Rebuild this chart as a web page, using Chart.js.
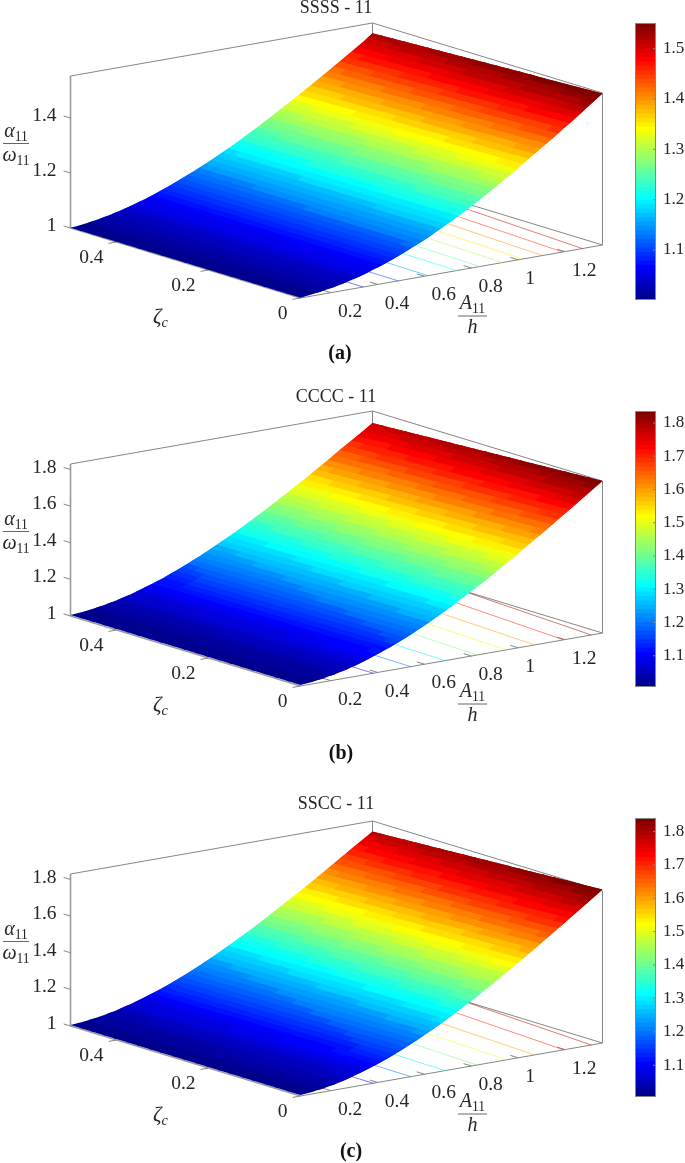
<!DOCTYPE html>
<html>
<head>
<meta charset="utf-8">
<title>Surface plots</title>
<script src="https://cdn.jsdelivr.net/npm/chart.js@4"></script>
<style>
  html, body { margin: 0; padding: 0; background: #fff; }
  body { position: relative; width: 685px; height: 1163px; overflow: hidden; }
  canvas { position: absolute; }
  .caption {
    position: absolute; transform: translate(-50%, -50%);
    font: bold 20px "Liberation Serif", serif; color: #111;
  }
</style>
</head>
<body>
<canvas id="surface-a" width="672" height="366" style="left:0;top:-2px"></canvas>
<canvas id="bar-a" width="51" height="277" style="left:635px;top:23px"></canvas>
<div class="caption" style="left:340px;top:352px">(a)</div>

<canvas id="surface-b" width="672" height="366" style="left:0;top:387px"></canvas>
<canvas id="bar-b" width="51" height="276" style="left:635px;top:411px"></canvas>
<div class="caption" style="left:341px;top:752px">(b)</div>

<canvas id="surface-c" width="672" height="366" style="left:0;top:794px"></canvas>
<canvas id="bar-c" width="51" height="279" style="left:635px;top:818px"></canvas>
<div class="caption" style="left:351px;top:1150px">(c)</div>

<script>
// values
const aValues = [0.07, 0.12, 0.17, 0.22, 0.27, 0.32, 0.37, 0.42, 0.47, 0.52, 0.57, 0.62, 0.67, 0.72,
  0.77, 0.82, 0.87, 0.92, 0.97, 1.02, 1.07, 1.12, 1.17, 1.22, 1.27, 1.32, 1.36];
const zetaValues = [0, 0.25, 0.5];

const ssssZeta0 = [1.001, 1.006, 1.012, 1.019, 1.029, 1.040, 1.053, 1.068, 1.084, 1.102, 1.121, 1.141, 1.163, 1.186,
  1.210, 1.235, 1.262, 1.289, 1.317, 1.346, 1.375, 1.404, 1.434, 1.464, 1.495, 1.526, 1.551];
const ssssZeta25 = [1.001, 1.005, 1.011, 1.019, 1.029, 1.040, 1.053, 1.067, 1.083, 1.101, 1.120, 1.139, 1.160, 1.182,
  1.205, 1.230, 1.255, 1.281, 1.308, 1.336, 1.364, 1.392, 1.420, 1.449, 1.478, 1.508, 1.534];
const ssssZeta50 = [1.001, 1.005, 1.011, 1.019, 1.029, 1.040, 1.053, 1.067, 1.083, 1.100, 1.118, 1.137, 1.157, 1.178,
  1.200, 1.224, 1.248, 1.273, 1.299, 1.325, 1.352, 1.379, 1.406, 1.434, 1.462, 1.490, 1.516];

const ccccZeta0 = [1.006, 1.011, 1.020, 1.032, 1.047, 1.066, 1.087, 1.110, 1.135, 1.163, 1.193, 1.225, 1.259, 1.294,
  1.331, 1.369, 1.408, 1.449, 1.490, 1.532, 1.575, 1.618, 1.662, 1.706, 1.750, 1.795, 1.830];
const ccccZeta25 = [1.006, 1.011, 1.019, 1.031, 1.045, 1.063, 1.082, 1.104, 1.128, 1.155, 1.183, 1.214, 1.246, 1.280,
  1.315, 1.351, 1.389, 1.428, 1.468, 1.508, 1.549, 1.592, 1.634, 1.677, 1.720, 1.763, 1.797];
const ccccZeta50 = [1.006, 1.010, 1.018, 1.029, 1.042, 1.059, 1.077, 1.098, 1.121, 1.146, 1.173, 1.202, 1.233, 1.265,
  1.298, 1.333, 1.369, 1.406, 1.445, 1.484, 1.523, 1.565, 1.605, 1.648, 1.689, 1.730, 1.764];

const ssccZeta0 = [1.005, 1.011, 1.020, 1.032, 1.048, 1.067, 1.088, 1.111, 1.137, 1.165, 1.195, 1.227, 1.261, 1.297,
  1.334, 1.373, 1.412, 1.453, 1.495, 1.537, 1.580, 1.624, 1.668, 1.712, 1.757, 1.802, 1.838];
const ssccZeta25 = [1.005, 1.011, 1.019, 1.031, 1.046, 1.064, 1.084, 1.106, 1.130, 1.157, 1.186, 1.217, 1.249, 1.284,
  1.319, 1.356, 1.394, 1.434, 1.474, 1.515, 1.556, 1.599, 1.641, 1.684, 1.728, 1.771, 1.805];
const ssccZeta50 = [1.005, 1.010, 1.018, 1.029, 1.043, 1.060, 1.079, 1.100, 1.123, 1.149, 1.176, 1.206, 1.237, 1.270,
  1.304, 1.339, 1.376, 1.414, 1.453, 1.492, 1.532, 1.573, 1.614, 1.656, 1.698, 1.739, 1.772];

// contour lines on the floor: level, a at zeta=0, far end of the line
const ssssLevels = [1.05, 1.10, 1.15, 1.20, 1.25, 1.30, 1.35, 1.40, 1.45, 1.50];
const ssssContourA0 = [0.338, 0.487, 0.615, 0.737, 0.836, 0.933, 1.019, 1.103, 1.19, 1.274];
const ssssContourEndA = [0.345, 0.50, 0.635, 0.765, 0.875, 0.975, 1.07, 1.165, 1.255, 1.345];
const ssssContourEndZeta = [0.5, 0.5, 0.5, 0.5, 0.5, 0.5, 0.5, 0.5, 0.5, 0.5];

const ccccLevels = [1.1, 1.2, 1.3, 1.4, 1.5, 1.6, 1.7, 1.8];
const ccccContourA0 = [0.381, 0.541, 0.687, 0.824, 0.95, 1.07, 1.194, 1.312];
const ccccContourEndA = [0.385, 0.56, 0.72, 0.875, 1.005, 1.135, 1.27, 1.36];
const ccccContourEndZeta = [0.5, 0.5, 0.5, 0.5, 0.5, 0.5, 0.5, 0.33];

const aTicks = [0.2, 0.4, 0.6, 0.8, 1, 1.2];
const zetaTicks = [0, 0.2, 0.4];
const ssssZTicks = [1, 1.2, 1.4];
const ccccZTicks = [1, 1.2, 1.4, 1.6, 1.8];
const ssssBarTicks = [1.1, 1.2, 1.3, 1.4, 1.5];
const ccccBarTicks = [1.1, 1.2, 1.3, 1.4, 1.5, 1.6, 1.7, 1.8];

const aLimits = [0.07, 1.36];
const zetaLimits = [0, 0.5];

// where the box sits on the canvas, in canvas pixels
const frontX = 300.5;
const aRunX = 302;
const aRise = 53;
const zetaRunX = 230;
const zetaRise = 70;
const boxHeight = 152;
const plotWidth = 672;
const plotHeight = 345;
const zetaCells = 20;
const aCellSplit = 2;

const axisColor = '#868686';
const textColor = '#262626';
const tickFont = '19.5px "Liberation Serif"';

const panels = [
  { id: 'a', title: 'SSSS - 11', frontY: 279, zTop: 1.553, cRange: [1.0005, 1.551],
    rows: [ssssZeta0, ssssZeta25, ssssZeta50], zTicks: ssssZTicks, barTicks: ssssBarTicks,
    levels: ssssLevels, contourA0: ssssContourA0, contourEndA: ssssContourEndA, contourEndZeta: ssssContourEndZeta },
  { id: 'b', title: 'CCCC - 11', frontY: 278, zTop: 1.83, cRange: [1.006, 1.836],
    rows: [ccccZeta0, ccccZeta25, ccccZeta50], zTicks: ccccZTicks, barTicks: ccccBarTicks,
    levels: ccccLevels, contourA0: ccccContourA0, contourEndA: ccccContourEndA, contourEndZeta: ccccContourEndZeta },
  { id: 'c', title: 'SSCC - 11', frontY: 281, zTop: 1.83, cRange: [1.005, 1.84],
    rows: [ssccZeta0, ssccZeta25, ssccZeta50], zTicks: ccccZTicks, barTicks: ccccBarTicks,
    levels: ccccLevels, contourA0: ccccContourA0, contourEndA: ccccContourEndA, contourEndZeta: ccccContourEndZeta }
];

function clamp01(v) {
  return Math.max(0, Math.min(1, v));
}

function jet(t, alpha) {
  const r = clamp01(1.5 - Math.abs(4 * t - 3));
  const g = clamp01(1.5 - Math.abs(4 * t - 2));
  const b = clamp01(1.5 - Math.abs(4 * t - 1));
  const a = alpha === undefined ? 1 : alpha;
  return 'rgba(' + Math.round(r * 255) + ',' + Math.round(g * 255) + ',' + Math.round(b * 255) + ',' + a + ')';
}

// MATLAB style 64 step colormap
function levelIndex(value, range) {
  return Math.max(0, Math.min(63, Math.floor((value - range[0]) / (range[1] - range[0]) * 64)));
}

function project(panel, a, zeta, z) {
  const fa = (a - aLimits[0]) / (aLimits[1] - aLimits[0]);
  const fz = (zeta - zetaLimits[0]) / (zetaLimits[1] - zetaLimits[0]);
  return {
    x: frontX + fa * aRunX - fz * zetaRunX,
    y: panel.frontY - fa * aRise - fz * zetaRise - (z - 1) / (panel.zTop - 1) * boxHeight
  };
}

function boxPoints(panel) {
  const p = function (a, zeta, z) { return project(panel, a, zeta, z); };
  const a0 = aLimits[0], a1 = aLimits[1], zm = zetaLimits[1], top = panel.zTop;
  const gap = { x: NaN, y: NaN };
  const pts = [
    p(a0, zm, top), p(a1, zm, top), p(a1, 0, top), p(a1, 0, 1), p(a0, 0, 1), gap,
    p(a1, zm, top), p(a1, zm, 1), p(a1, 0, 1), gap
  ];
  aTicks.forEach(function (t) {
    pts.push(p(t, 0, 1), p(t, 0.017, 1), gap);
  });
  zetaTicks.forEach(function (t) {
    pts.push(p(a0, t, 1), p(a0 - 0.034, t, 1), gap);
  });
  panel.zTicks.forEach(function (t) {
    pts.push(p(a0, zm, t), p(a0, zm + 0.015, t), gap);
  });
  return pts;
}

// heavier lines of the z axis and the zeta edge
function edgePoints(panel) {
  return [
    project(panel, aLimits[0], zetaLimits[1], panel.zTop),
    project(panel, aLimits[0], zetaLimits[1], 1),
    project(panel, aLimits[0], 0, 1)
  ];
}

// shades the read grid in flat colour steps, using the pixels the chart gave its points
const surfacePlugin = {
  id: 'surfaceFacets',
  afterDatasetsDraw: function (chart, args, opts) {
    const ctx = chart.ctx;
    const panel = opts.panel;
    const metas = panel.rows.map(function (row, i) { return chart.getDatasetMeta(i).data; });
    const stepsA = (aValues.length - 1) * aCellSplit;

    function blend(s, t, read) {
      const pa = Math.min(s / aCellSplit, aValues.length - 1.000001);
      const pz = Math.min(t / zetaCells * (panel.rows.length - 1), panel.rows.length - 1.000001);
      const i = Math.floor(pa), j = Math.floor(pz);
      const u = pa - i, v = pz - j;
      return (1 - v) * ((1 - u) * read(j, i) + u * read(j, i + 1)) +
        v * ((1 - u) * read(j + 1, i) + u * read(j + 1, i + 1));
    }
    function pointX(s, t) { return blend(s, t, function (j, i) { return metas[j][i].x; }); }
    function pointY(s, t) { return blend(s, t, function (j, i) { return metas[j][i].y; }); }
    function height(s, t) { return blend(s, t, function (j, i) { return panel.rows[j][i]; }); }

    ctx.save();
    for (let t = 0; t < zetaCells; t++) {
      // later strips paint over a little of this one, so no seams show
      const far = t + 1 < zetaCells ? t + 1.25 : t + 1;
      let s = 0;
      while (s < stepsA) {
        const level = levelIndex(height(s + 1, t), panel.cRange);
        let end = s + 1;
        while (end < stepsA && levelIndex(height(end + 1, t), panel.cRange) === level) end++;
        const stop = Math.min(end + 1, stepsA);
        ctx.fillStyle = jet((level + 1) / 64);
        ctx.beginPath();
        ctx.moveTo(pointX(s, t), pointY(s, t));
        for (let q = s + 1; q <= stop; q++) ctx.lineTo(pointX(q, t), pointY(q, t));
        for (let q = stop; q >= s; q--) ctx.lineTo(pointX(q, far), pointY(q, far));
        ctx.closePath();
        ctx.fill();
        s = end;
      }
    }
    ctx.restore();
  }
};

// one run of math text: [string, italic?, subscript?]
function drawRuns(ctx, runs, cx, cy, size) {
  let w = 0;
  const fonts = runs.map(function (r) {
    const f = (r[1] ? 'italic ' : '') + (r[2] ? size * 0.68 : size) + 'px "Liberation Serif"';
    ctx.font = f;
    w += ctx.measureText(r[0]).width;
    return f;
  });
  let x = cx - w / 2;
  ctx.textAlign = 'left';
  ctx.textBaseline = 'alphabetic';
  runs.forEach(function (r, i) {
    ctx.font = fonts[i];
    ctx.fillText(r[0], x, cy + (r[2] ? size * 0.2 : 0));
    x += ctx.measureText(r[0]).width;
  });
}

function drawFraction(ctx, top, bottom, cx, barY, barW, size) {
  drawRuns(ctx, top, cx, barY - 7, size);
  ctx.strokeStyle = '#666';
  ctx.lineWidth = 1;
  ctx.beginPath();
  ctx.moveTo(cx - barW / 2, barY);
  ctx.lineTo(cx + barW / 2, barY);
  ctx.stroke();
  drawRuns(ctx, bottom, cx, barY + 17, size);
}

const axisTextPlugin = {
  id: 'axisText',
  afterDraw: function (chart, args, opts) {
    const ctx = chart.ctx;
    const panel = opts.panel;
    const sx = chart.scales.x, sy = chart.scales.y;
    function px(p) {
      return { x: sx.getPixelForValue(p.x), y: sy.getPixelForValue(p.y) };
    }
    ctx.save();
    ctx.fillStyle = textColor;
    ctx.font = tickFont;
    ctx.textBaseline = 'middle';

    ctx.textAlign = 'right';
    panel.zTicks.forEach(function (t) {
      const q = px(project(panel, aLimits[0], zetaLimits[1] + 0.015, t));
      ctx.fillText(String(t), q.x - 7, q.y);
    });
    zetaTicks.forEach(function (t) {
      const q = px(project(panel, aLimits[0], t, 1));
      ctx.fillText(String(t), q.x - 13, q.y + 16);
    });
    ctx.textAlign = 'left';
    aTicks.forEach(function (t) {
      const q = px(project(panel, t, 0, 1));
      ctx.fillText(String(t), q.x + 7, q.y + 19);
    });

    const front = px(project(panel, aLimits[0], 0, 1));
    drawRuns(ctx, [['\u03B6', true, false], ['c', true, true]], front.x - 140, front.y + 25, 21);
    drawFraction(ctx, [['A', true, false], ['11', false, true]], [['h', true, false]],
      front.x + 172, front.y + 18, 29, 20);
    drawFraction(ctx, [['\u03B1', true, false], ['11', false, true]], [['\u03C9', true, false], ['11', false, true]],
      16, front.y - 154.5, 26, 20);
    ctx.restore();
  }
};

function drawSurface(panel) {
  const datasets = [];
  panel.rows.forEach(function (row, j) {
    datasets.push({
      label: 'zeta ' + zetaValues[j],
      data: row.map(function (z, i) { return project(panel, aValues[i], zetaValues[j], z); }),
      showLine: false,
      pointRadius: 0
    });
  });
  panel.levels.forEach(function (level, i) {
    datasets.push({
      label: 'contour ' + level,
      data: [project(panel, panel.contourA0[i], 0, 1), project(panel, panel.contourEndA[i], panel.contourEndZeta[i], 1)],
      showLine: true,
      pointRadius: 0,
      borderWidth: 0.8,
      borderColor: jet((levelIndex(level, panel.cRange) + 1) / 64, 0.65)
    });
  });
  datasets.push({
    label: 'box',
    data: boxPoints(panel),
    showLine: true,
    pointRadius: 0,
    borderWidth: 1,
    borderColor: axisColor
  });
  datasets.push({
    label: 'edge',
    data: edgePoints(panel),
    showLine: true,
    pointRadius: 0,
    borderWidth: 1.6,
    borderColor: '#9a9a9a'
  });

  new Chart(document.getElementById('surface-' + panel.id), {
    type: 'scatter',
    data: { datasets: datasets },
    options: {
      responsive: false,
      animation: false,
      events: [],
      scales: {
        x: { type: 'linear', min: 0, max: plotWidth, display: false },
        y: { type: 'linear', min: 0, max: plotHeight, reverse: true, display: false }
      },
      plugins: {
        legend: { display: false },
        tooltip: { enabled: false },
        title: {
          display: true,
          text: panel.title,
          color: textColor,
          padding: 0,
          font: { family: '"Liberation Serif"', size: 18, weight: 'normal', lineHeight: 1.1667 }
        },
        surfaceFacets: { panel: panel },
        axisText: { panel: panel }
      }
    },
    plugins: [surfacePlugin, axisTextPlugin]
  });
}

function drawColorbar(panel) {
  const datasets = [];
  const lo = panel.cRange[0], step = (panel.cRange[1] - panel.cRange[0]) / 64;
  for (let i = 0; i < 64; i++) {
    datasets.push({
      data: [[lo + i * step, lo + (i + 1) * step]],
      backgroundColor: jet((i + 1) / 64),
      borderWidth: 0,
      barPercentage: 1,
      categoryPercentage: 1,
      inflateAmount: 0.4
    });
  }
  new Chart(document.getElementById('bar-' + panel.id), {
    type: 'bar',
    data: { labels: ['colour'], datasets: datasets },
    options: {
      responsive: false,
      animation: false,
      events: [],
      scales: {
        x: { display: false, stacked: true },
        y: {
          position: 'right',
          min: panel.cRange[0],
          max: panel.cRange[1],
          stacked: false,
          grid: { display: false, drawTicks: false },
          border: { display: false },
          ticks: {
            color: textColor,
            padding: 7,
            font: { family: '"Liberation Serif"', size: 17 },
            callback: function (v) { return v.toFixed(1); }
          },
          afterBuildTicks: function (axis) {
            axis.ticks = panel.barTicks.map(function (v) { return { value: v }; });
          },
          afterFit: function (axis) {
            axis.width = 30;
            axis.paddingTop = 0;
            axis.paddingBottom = 0;
          }
        }
      },
      plugins: { legend: { display: false }, tooltip: { enabled: false } }
    },
    plugins: [{
      id: 'barFrame',
      afterDraw: function (chart) {
        const ctx = chart.ctx, area = chart.chartArea, sy = chart.scales.y;
        ctx.save();
        ctx.strokeStyle = axisColor;
        ctx.lineWidth = 1;
        ctx.strokeRect(area.left + 0.5, area.top + 0.5, area.width - 1, area.height - 1);
        panel.barTicks.forEach(function (v) {
          const y = sy.getPixelForValue(v);
          ctx.beginPath();
          ctx.moveTo(area.right - 3, y);
          ctx.lineTo(area.right, y);
          ctx.stroke();
        });
        ctx.restore();
      }
    }]
  });
}

panels.forEach(function (panel) {
  drawSurface(panel);
  drawColorbar(panel);
});
</script>
</body>
</html>
